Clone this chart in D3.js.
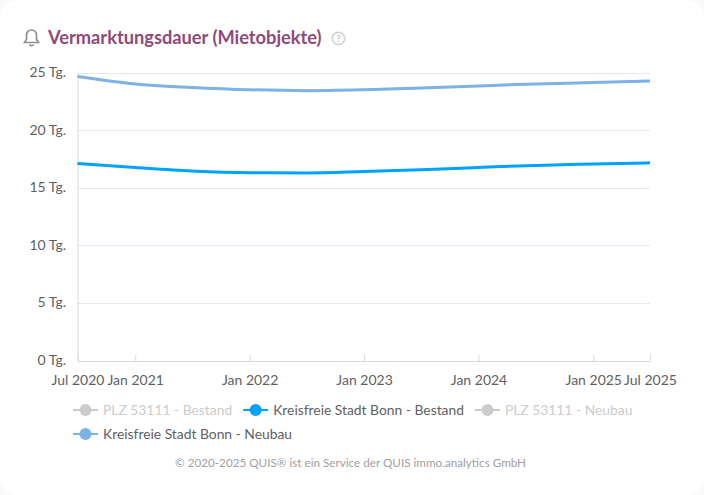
<!DOCTYPE html>
<html>
<head>
<meta charset="utf-8">
<script src="https://cdn.jsdelivr.net/npm/d3@7"></script>
<style>
  html, body { margin: 0; padding: 0; background: #fafafa; overflow: hidden; }
  svg { display: block; font-family: Lato, sans-serif; }
  .y-axis path, .x-axis path { stroke: #d9d9de; }
  .x-axis line { stroke: #d9d9de; }
  .tick text { fill: #5f5f5f; font-size: 14px; font-family: Lato, sans-serif; }
</style>
</head>
<body>
<svg id="chart" width="704" height="495"></svg>
<script>
const width = 704;
const height = 495;

const dates = ["2020-07", "2021-01", "2021-07", "2022-01", "2022-07", "2023-01", "2023-07", "2024-01", "2024-07", "2025-01", "2025-07"];
const bestand = [17.15, 16.8, 16.5, 16.35, 16.33, 16.45, 16.6, 16.8, 16.98, 17.1, 17.2];
const neubau = [24.7, 24.05, 23.75, 23.55, 23.47, 23.55, 23.7, 23.88, 24.05, 24.17, 24.3];

const yTicks = [0, 5, 10, 15, 20, 25];
const xTicks = ["2020-07", "2021-01", "2022-01", "2023-01", "2024-01", "2025-01", "2025-07"];

const legendRow1 = ["PLZ 53111 - Bestand", "Kreisfreie Stadt Bonn - Bestand", "PLZ 53111 - Neubau"];
const legendRow2 = ["Kreisfreie Stadt Bonn - Neubau"];
const legendColors = {
  "PLZ 53111 - Bestand": "#cccccc",
  "Kreisfreie Stadt Bonn - Bestand": "#00a2ff",
  "PLZ 53111 - Neubau": "#cccccc",
  "Kreisfreie Stadt Bonn - Neubau": "#7cb2e4"
};

const parse = d3.timeParse("%Y-%m");
const fmt = d3.timeFormat("%b %Y");

const plot = { left: 77.5, right: 650, top: 73, bottom: 361 };

const svg = d3.select("#chart");

// card
svg.append("rect")
  .attr("x", 0).attr("y", 0)
  .attr("width", width).attr("height", height)
  .attr("rx", 18)
  .attr("fill", "#fff");

// title
const bell = svg.append("g")
  .attr("transform", "translate(24, 29)")
  .attr("fill", "none")
  .attr("stroke", "#8f8f8f")
  .attr("stroke-width", 1.7);
bell.append("path").attr("d", "M0.5 13.5 L2.5 10.5 V6.5 C2.5 3 4.8 1 7.5 1 C10.2 1 12.5 3 12.5 6.5 V10.5 L14.5 13.5 Z");
bell.append("path").attr("d", "M5.5 15.5 C6 17 9 17 9.5 15.5");

svg.append("text")
  .attr("x", 48).attr("y", 43.5)
  .attr("fill", "#8f4a78")
  .attr("font-size", 18.25)
  .attr("font-weight", 700)
  .text("Vermarktungsdauer (Mietobjekte)");

svg.append("circle")
  .attr("cx", 338.5).attr("cy", 38.5).attr("r", 6.2)
  .attr("fill", "none")
  .attr("stroke", "#d4d4d4")
  .attr("stroke-width", 1.7);
svg.append("text")
  .attr("x", 338.5).attr("y", 42)
  .attr("text-anchor", "middle")
  .attr("fill", "#c4c4c4")
  .attr("font-size", 9)
  .attr("font-weight", 700)
  .text("?");

// scales
const x = d3.scaleTime()
  .domain([parse("2020-07"), parse("2025-07")])
  .range([plot.left, plot.right]);

const y = d3.scaleLinear()
  .domain([0, 25])
  .range([plot.bottom, plot.top]);

// grid
svg.append("g")
  .selectAll("line")
  .data(yTicks.filter(d => d > 0))
  .enter().append("line")
  .attr("x1", plot.left)
  .attr("x2", plot.right)
  .attr("y1", d => Math.floor(y(d)) + 0.5)
  .attr("y2", d => Math.floor(y(d)) + 0.5)
  .attr("stroke", "#e6e9f5");

// axes
const xAxis = d3.axisBottom(x)
  .tickValues(xTicks.map(parse))
  .tickFormat(fmt)
  .tickSize(-6)
  .tickSizeOuter(0)
  .tickPadding(12);

svg.append("g")
  .attr("class", "x-axis")
  .attr("transform", `translate(0, ${plot.bottom})`)
  .call(xAxis)
  .selectAll("text")
  .attr("dy", "0.85em");

const yAxis = d3.axisLeft(y)
  .tickValues(yTicks)
  .tickFormat(d => d + " Tg.")
  .tickSize(0)
  .tickPadding(11.5);

const yG = svg.append("g")
  .attr("class", "y-axis")
  .attr("transform", `translate(${plot.left}, 0)`)
  .call(yAxis);
yG.selectAll("text").attr("dy", "0.25em");

// lines
const line = d3.line()
  .x(d => x(d.date))
  .y(d => y(d.value))
  .curve(d3.curveMonotoneX);

function toPoints(values) {
  return dates.map((d, i) => ({ date: parse(d), value: values[i] }));
}

svg.append("path")
  .attr("d", line(toPoints(neubau)))
  .attr("fill", "none")
  .attr("stroke", legendColors["Kreisfreie Stadt Bonn - Neubau"])
  .attr("stroke-width", 3);

svg.append("path")
  .attr("d", line(toPoints(bestand)))
  .attr("fill", "none")
  .attr("stroke", legendColors["Kreisfreie Stadt Bonn - Bestand"])
  .attr("stroke-width", 3);

// legend
function legendRow(items, startX, rowY) {
  let cx = startX;
  items.forEach(name => {
    const color = legendColors[name];
    const g = svg.append("g").attr("transform", `translate(${cx}, ${rowY})`);
    g.append("line")
      .attr("x1", 0).attr("x2", 25)
      .attr("stroke", color)
      .attr("stroke-width", 2);
    g.append("circle")
      .attr("cx", 12.5).attr("r", 6)
      .attr("fill", color);
    const t = g.append("text")
      .attr("x", 30).attr("y", 5)
      .attr("font-size", 13.85)
      .attr("fill", color === "#cccccc" ? "#cccccc" : "#5f5f5f")
      .text(name);
    cx += 30 + t.node().getComputedTextLength() + 11;
  });
}
legendRow(legendRow1, 73, 410);
legendRow(legendRow2, 73, 434);

// footer
svg.append("text")
  .attr("x", 350.5).attr("y", 467)
  .attr("text-anchor", "middle")
  .attr("font-size", 11.7)
  .attr("fill", "#a0a0a0")
  .text("© 2020-2025 QUIS® ist ein Service der QUIS immo.analytics GmbH");
</script>
</body>
</html>
